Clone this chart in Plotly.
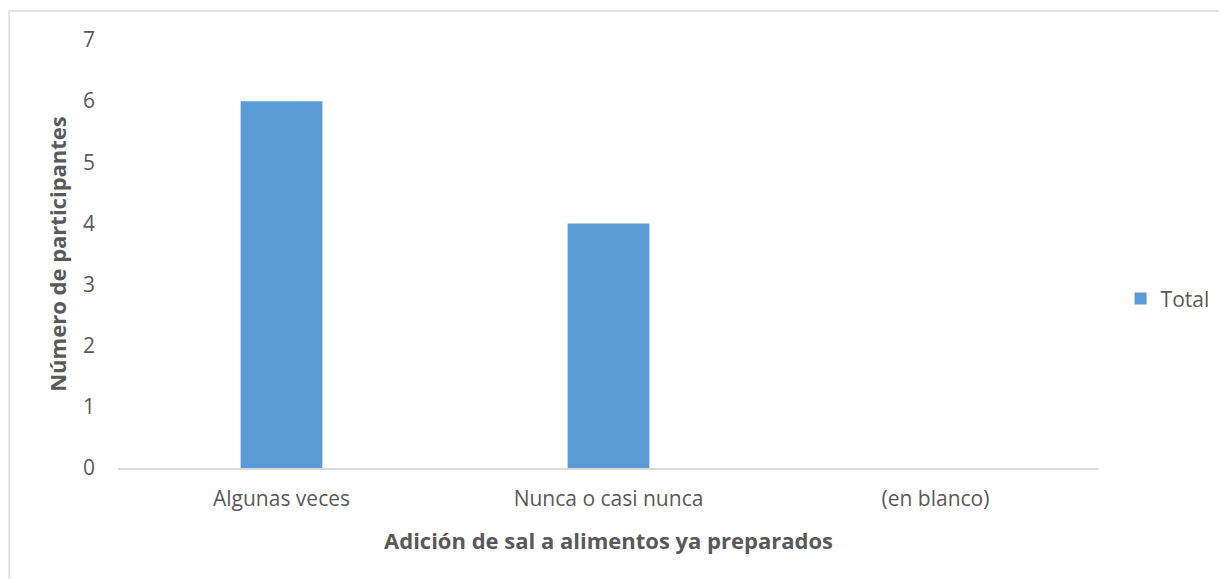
import plotly.graph_objects as go

categorias = ["Algunas veces", "Nunca o casi nunca", "(en blanco)"]
total = [6, 4, 0]

gris = "#595959"
fuente = "Open Sans, Liberation Sans, sans-serif"

fig = go.Figure()
fig.add_trace(
    go.Bar(
        x=categorias,
        y=total,
        name="Total",
        marker=dict(color="#5B9BD5", line=dict(width=0)),
        width=0.25,
        showlegend=True,
    )
)

# the page has an 8px body margin, so the figure is a bit smaller than the window
fig.update_layout(
    width=1219,
    height=571,
    margin=dict(l=110, r=118, t=32, b=111),
    plot_bgcolor="white",
    paper_bgcolor="white",
    font=dict(family=fuente, color=gris),
    legend=dict(
        x=1.022, y=0.395, xanchor="left", yanchor="middle",
        font=dict(size=21, color=gris),
        itemwidth=30,
    ),
    xaxis=dict(
        title=dict(text="<b>Adición de sal a alimentos ya preparados</b>",
                   font=dict(size=22, color=gris), standoff=22),
        tickfont=dict(size=21, color=gris),
        showline=True, linecolor="#D9D9D9", linewidth=2,
        ticks="", ticklabelstandoff=11,
    ),
    yaxis=dict(
        title=dict(text="<b>Número de participantes</b>",
                   font=dict(size=22, color=gris), standoff=10),
        range=[0, 7], dtick=1,
        tickfont=dict(size=21, color=gris),
        showgrid=False, zeroline=False,
        ticks="", ticklabelstandoff=22,
    ),
    shapes=[
        dict(type="rect", xref="paper", yref="paper",
             x0=-0.111, x1=1.14, y0=-0.3, y1=1.068,
             line=dict(color="#D9D9D9", width=1.5), fillcolor="rgba(0,0,0,0)",
             layer="below"),
    ],
)

fig.write_html("out.html")
